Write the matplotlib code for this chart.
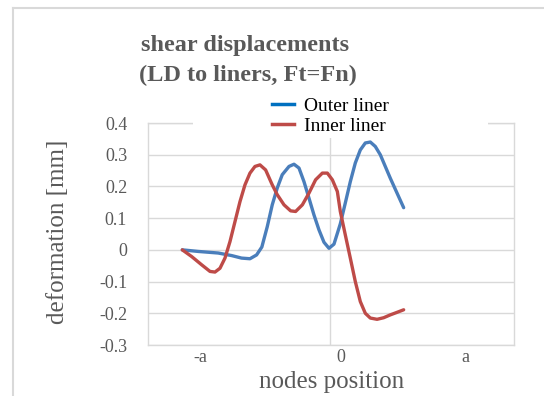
import matplotlib
matplotlib.use("Agg")
import matplotlib.pyplot as plt
from matplotlib.patches import Rectangle
from matplotlib.lines import Line2D
from matplotlib.transforms import ScaledTranslation

# --- Data: node position (in units of a) vs shear deformation [mm] ---
outer_x = [-1.096, -0.978, -0.830, -0.731, -0.657, -0.595, -0.546, -0.507, -0.467,
           -0.430, -0.393, -0.356, -0.306, -0.269, -0.232, -0.195, -0.158, -0.121,
           -0.084, -0.047, -0.010, 0.027, 0.074, 0.111, 0.148, 0.185, 0.222, 0.259,
           0.296, 0.333, 0.370, 0.407, 0.444, 0.494, 0.543]
outer_y = [0.000, -0.005, -0.010, -0.018, -0.026, -0.028, -0.016, 0.009, 0.073,
           0.142, 0.195, 0.237, 0.263, 0.270, 0.258, 0.215, 0.163, 0.110,
           0.063, 0.024, 0.005, 0.018, 0.082, 0.148, 0.215, 0.274, 0.315, 0.337,
           0.340, 0.326, 0.300, 0.263, 0.226, 0.179, 0.133]

inner_x = [-1.096, -1.027, -0.953, -0.891, -0.854, -0.817, -0.780, -0.743, -0.706,
           -0.669, -0.632, -0.595, -0.558, -0.521, -0.479, -0.430, -0.393, -0.343,
           -0.294, -0.257, -0.207, -0.158, -0.109, -0.059, -0.022, 0.015, 0.052,
           0.074, 0.111, 0.148, 0.185, 0.222, 0.259, 0.296, 0.346, 0.395, 0.444,
           0.494, 0.543]
inner_y = [0.000, -0.021, -0.047, -0.068, -0.070, -0.058, -0.026, 0.026, 0.089,
           0.152, 0.205, 0.242, 0.263, 0.268, 0.252, 0.205, 0.174, 0.142,
           0.123, 0.121, 0.142, 0.179, 0.221, 0.242, 0.242, 0.221, 0.184,
           0.121, 0.047, -0.026, -0.100, -0.163, -0.200, -0.215, -0.219, -0.214, -0.205,
           -0.197, -0.189]

x_ticks = [-1, 0, 1]
x_labels = ["-a", "0", "a"]
y_ticks = [-0.3, -0.2, -0.1, 0.0, 0.1, 0.2, 0.3, 0.4]
y_labels = ["-0.3", "-0.2", "-0.1", "0", "0.1", "0.2", "0.3", "0.4"]

# --- Style ---
plt.rcParams["font.family"] = ["Liberation Serif", "DejaVu Serif"]
text_col = "#595959"
grid_col = "#D9D9D9"
blue = "#4A7EBB"
red = "#BE4B48"

W, H = 544, 396
fig = plt.figure(figsize=(W / 100, H / 100), dpi=100)

# chart frame
fig.add_artist(Line2D([13 / W, 13 / W], [0, 1 - 8 / H], color=grid_col, lw=1.5,
                      transform=fig.transFigure))
fig.add_artist(Line2D([13 / W, 1], [1 - 8 / H, 1 - 8 / H], color=grid_col, lw=1.5,
                      transform=fig.transFigure))

ax = fig.add_axes([148 / W, 51 / H, 366 / W, 222 / H])

ax.plot(outer_x, outer_y, color=blue, lw=2.4, solid_joinstyle="round",
        solid_capstyle="round", zorder=3)
ax.plot(inner_x, inner_y, color=red, lw=2.4, solid_joinstyle="round",
        solid_capstyle="round", zorder=3)

ax.set_xlim(-1.35, 1.36)
ax.set_ylim(-0.3, 0.4)

ax.set_yticks(y_ticks)
ax.set_yticklabels(y_labels)
ax.set_xticks(x_ticks)
ax.set_xticklabels(x_labels)
ax.tick_params(axis="both", length=0, labelsize=13, labelcolor=text_col)
ax.tick_params(axis="y", pad=15)
ax.tick_params(axis="x", pad=3)

# nudge category labels the way the original axis sits
for lab, dx in zip(ax.get_xticklabels(), [5, 10, 0]):
    lab.set_transform(lab.get_transform() + ScaledTranslation(dx / 100, 0, fig.dpi_scale_trans))

ax.grid(axis="y", color=grid_col, lw=1)
ax.axvline(0, color=grid_col, lw=1, zorder=1)
ax.set_axisbelow(True)
for sp in ax.spines.values():
    sp.set_color(grid_col)
    sp.set_linewidth(1)

# labels
fig.text(58 / W, 1 - 232 / H, "deformation [mm]", rotation=90, ha="center", va="center",
         fontsize=18, color=text_col)
fig.text(332 / W, 1 - 382 / H, "nodes position", ha="center", va="center",
         fontsize=18, color=text_col)

# title
fig.text(245 / W, 1 - 45 / H, "shear displacements", ha="center", va="center",
         fontsize=17.5, fontweight="bold", color=text_col)
fig.text(248 / W, 1 - 75 / H, "(LD to liners, Ft=Fn)", ha="center", va="center",
         fontsize=17.5, fontweight="bold", color=text_col)

# legend area over the top of the plot
fig.add_artist(Rectangle((193 / W, 1 - 138 / H), (488 - 193) / W, 50 / H,
                         transform=fig.transFigure, fc="white", ec="none", zorder=1))
handles = [Line2D([], [], color="#0070C0", lw=2.5), Line2D([], [], color=red, lw=2.5)]
fig.legend(handles, ["Outer liner", "Inner liner"], loc="center left",
           bbox_to_anchor=(262 / W, 1 - 116 / H), frameon=False, fontsize=14,
           handlelength=1.15, handletextpad=0.5, labelspacing=0.15, borderpad=0)

fig.savefig("out.png", dpi=100)
